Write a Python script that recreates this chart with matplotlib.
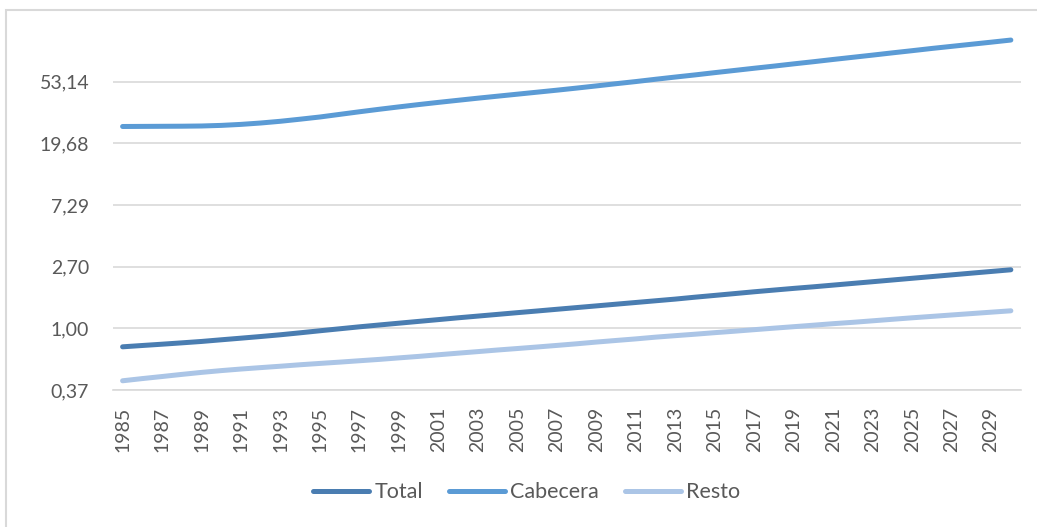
import matplotlib
matplotlib.use("Agg")
import matplotlib.pyplot as plt
from matplotlib.patches import Rectangle
from matplotlib.ticker import FixedLocator, FixedFormatter

# Datos (escala logaritmica base 2,7)
years = list(range(1985, 2031))

total = [0.742, 0.758, 0.774, 0.791, 0.809, 0.831, 0.853, 0.876, 0.901, 0.930,
         0.961, 0.992, 1.024, 1.0545, 1.0856, 1.1175, 1.150, 1.184, 1.217, 1.251,
         1.286, 1.321, 1.358, 1.3955, 1.434, 1.474, 1.515, 1.557, 1.600, 1.650,
         1.698, 1.748, 1.800, 1.850, 1.901, 1.950, 2.004, 2.060, 2.117, 2.176,
         2.237, 2.299, 2.363, 2.429, 2.496, 2.565]

cabecera = [25.76, 25.80, 25.84, 25.88, 25.97, 26.22, 26.65, 27.25, 28.02, 28.98,
            30.02, 31.31, 32.65, 33.99, 35.32, 36.66, 37.98, 39.29, 40.64, 41.97,
            43.34, 44.76, 46.22, 47.8, 49.5, 51.3, 53.1, 55.1, 57.1, 59.1,
            61.3, 63.5, 65.8, 68.1, 70.6, 73.1, 75.8, 78.5, 81.3, 84.3,
            87.3, 90.5, 93.6, 96.8, 100.1, 103.6]

resto = [0.4295, 0.445, 0.460, 0.476, 0.4916, 0.506, 0.519, 0.531, 0.543, 0.556,
         0.568, 0.580, 0.593, 0.606, 0.621, 0.636, 0.653, 0.670, 0.687, 0.705,
         0.722, 0.740, 0.759, 0.779, 0.801, 0.822, 0.843, 0.867, 0.888, 0.909,
         0.932, 0.954, 0.978, 1.002, 1.026, 1.051, 1.077, 1.101, 1.128, 1.156,
         1.184, 1.211, 1.239, 1.267, 1.296, 1.325]

y_ticks = [2.7 ** k for k in range(-1, 5)]
y_labels = ['0,37', '1,00', '2,70', '7,29', '19,68', '53,14']

plt.rcParams['font.family'] = ['Lato', 'DejaVu Sans']
txt = '#595959'
grid = '#d9d9d9'

fig = plt.figure(figsize=(10.37, 5.27), dpi=100)
ax = fig.add_axes([0.1087, 0.2600, 0.8756, 0.7024])

x = list(range(len(years)))
ax.plot(x, total, color='#4a7db1', lw=3.6, solid_capstyle='round', label='Total', zorder=3)
ax.plot(x, cabecera, color='#5b9bd5', lw=3.6, solid_capstyle='round', label='Cabecera', zorder=3)
ax.plot(x, resto, color='#abc5e6', lw=3.6, solid_capstyle='round', label='Resto', zorder=3)

ax.set_yscale('log', base=2.7)
ax.set_ylim(1 / 2.7, 2.7 ** 5)
ax.yaxis.set_major_locator(FixedLocator(y_ticks))
ax.yaxis.set_major_formatter(FixedFormatter(y_labels))
ax.yaxis.set_minor_locator(FixedLocator([]))
ax.set_xlim(-0.5, len(years) - 0.5)
ax.set_xticks(x[::2])
ax.set_xticklabels([str(y) for y in years[::2]], rotation=90)

ax.grid(axis='y', color=grid, lw=1.2)
ax.set_axisbelow(True)
for s in ['top', 'right', 'left']:
    ax.spines[s].set_visible(False)
ax.spines['bottom'].set_color(grid)
ax.spines['bottom'].set_linewidth(1.2)
ax.tick_params(axis='y', length=0, pad=17, labelsize=14, labelcolor=txt)
ax.tick_params(axis='x', length=0, pad=12, labelsize=14, labelcolor=txt)

fig.legend(loc='center', bbox_to_anchor=(0.508, 0.066), ncol=3, frameon=False,
           fontsize=15.5, labelcolor=txt, handlelength=2.6, handletextpad=0.25,
           columnspacing=1.2)

# borde del area del grafico
fig.patches.append(Rectangle((6 / 1037, -0.1), 1.2, 1 - 10 / 527 + 0.1,
                             transform=fig.transFigure, fill=False,
                             edgecolor=grid, lw=1.5))

fig.savefig('out.png', dpi=100)
